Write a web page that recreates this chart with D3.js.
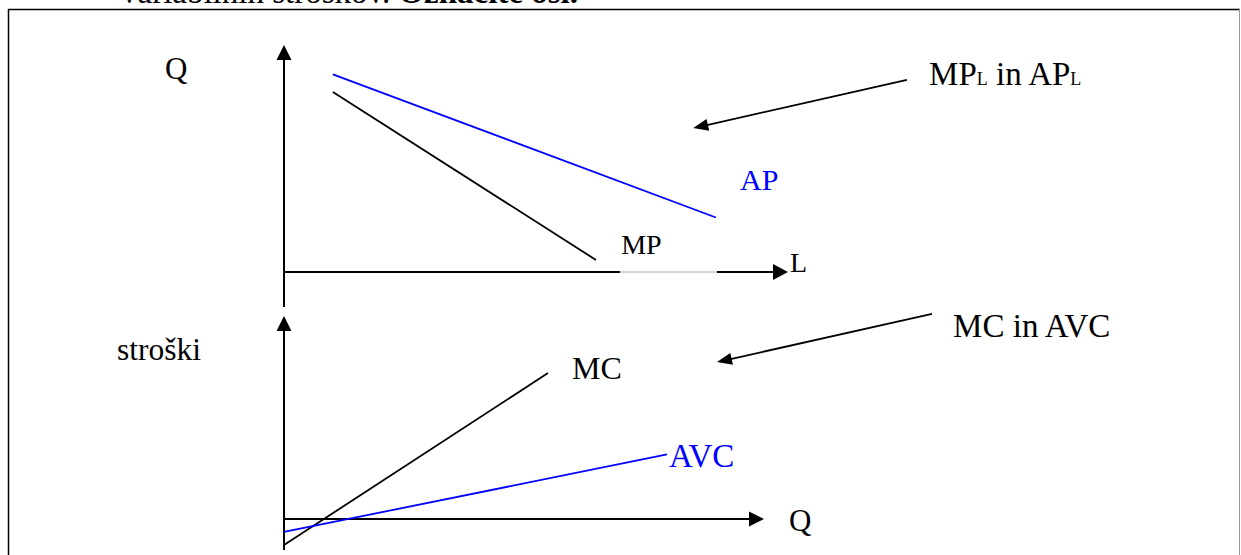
<!DOCTYPE html>
<html>
<head>
<meta charset="utf-8">
<script src="https://cdn.jsdelivr.net/npm/d3@7"></script>
<style>
body { margin: 0; background: #fff; }
text { font-family: "Liberation Serif", "DejaVu Serif", serif; }
</style>
</head>
<body>
<div id="vis"></div>
<script>
// top panel (Q against L), units 0-100 on both axes
var apLine = [[9.7, 87.1], [85.7, 24.0]];
var mpLine = [[9.7, 79.3], [61.9, 5.3]];
var lAxisGap = [66.7, 85.9];
var topArrow = [[123.6, 84.6], [81.2, 63.4]];

// bottom panel (stroški against Q)
var mcLine = [[0, -12.8], [55, 71.9]];
var avcLine = [[0, -6.4], [79.8, 31.8]];
var bottomArrow = [[135, 101], [90.2, 77.3]];

var topLabels = [
    {text: 'Q', x: -23.6, y: 85, color: '#000', size: 31},
    {text: 'AP', x: 90.5, y: 36.1, color: '#0000ff', size: 30},
    {text: 'MP', x: 66.9, y: 7.9, color: '#000', size: 28},
    {text: 'L', x: 100.4, y: 0, color: '#000', size: 28}
];
var bottomLabels = [
    {text: 'stroški', x: -34.8, y: 78.3, color: '#000', size: 31.5},
    {text: 'MC', x: 60, y: 69, color: '#000', size: 32},
    {text: 'AVC', x: 80.2, y: 25.4, color: '#0000ff', size: 33},
    {text: 'Q', x: 105.2, y: -5.9, color: '#000', size: 31},
    {text: 'MC in AVC', x: 139.4, y: 89.7, color: '#000', size: 33}
];

var width = 1241;
var height = 555;

var svg = d3.select('#vis')
    .append('svg')
    .attr('width', width)
    .attr('height', height);

svg.append('rect')
    .attr('width', width)
    .attr('height', height)
    .attr('fill', '#fff');

// question text cut off by the top of the page
var q = svg.append('text')
    .attr('x', 121)
    .attr('y', 3)
    .attr('font-size', 33);
q.append('tspan').text('variabilnih stroškov. ');
q.append('tspan').attr('font-weight', 'bold').text('Označite osi.');

// frame
svg.append('line').attr('x1', 8).attr('x2', 1240).attr('y1', 9.5).attr('y2', 9.5)
    .attr('stroke', '#000').attr('stroke-width', 1.5);
svg.append('line').attr('x1', 8.5).attr('x2', 8.5).attr('y1', 9).attr('y2', height)
    .attr('stroke', '#000').attr('stroke-width', 1.5);
svg.append('line').attr('x1', 1239.5).attr('x2', 1239.5).attr('y1', 9).attr('y2', height)
    .attr('stroke', '#999').attr('stroke-width', 1);

var xL = d3.scaleLinear().domain([0, 100]).range([284, 788]);
var yQ = d3.scaleLinear().domain([0, 100]).range([272, 45]);
var xQ = d3.scaleLinear().domain([0, 100]).range([284, 764]);
var yC = d3.scaleLinear().domain([0, 100]).range([519, 316]);

function arrowHead(g, x1, y1, x2, y2, len, half) {
    var dx = x2 - x1, dy = y2 - y1;
    var d = Math.sqrt(dx * dx + dy * dy);
    var ux = dx / d, uy = dy / d;
    var bx = x2 - ux * len, by = y2 - uy * len;
    g.append('path')
        .attr('d', 'M' + x2 + ',' + y2 +
            'L' + (bx - uy * half) + ',' + (by + ux * half) +
            'L' + (bx + uy * half) + ',' + (by - ux * half) + 'Z')
        .attr('fill', '#000');
}

function arrow(g, x1, y1, x2, y2, len, half, w) {
    var dx = x2 - x1, dy = y2 - y1;
    var d = Math.sqrt(dx * dx + dy * dy);
    g.append('line')
        .attr('x1', x1).attr('y1', y1)
        .attr('x2', x2 - dx / d * (len - 1)).attr('y2', y2 - dy / d * (len - 1))
        .attr('stroke', '#000').attr('stroke-width', w);
    arrowHead(g, x1, y1, x2, y2, len, half);
}

var line = function(xs, ys) {
    return d3.line()
        .x(function(d) { return xs(d[0]); })
        .y(function(d) { return ys(d[1]); });
};

function drawLabels(g, labels, xs, ys) {
    g.selectAll('.lbl')
        .data(labels)
        .enter()
        .append('text')
        .attr('class', 'lbl')
        .attr('x', function(d) { return xs(d.x); })
        .attr('y', function(d) { return ys(d.y); })
        .attr('font-size', function(d) { return d.size; })
        .attr('fill', function(d) { return d.color; })
        .text(function(d) { return d.text; });
}

// top panel
var topG = svg.append('g');

arrow(topG, xL(0), yQ(-15.4), xL(0), yQ(100), 15, 7.5, 2);
topG.append('line')
    .attr('x1', xL(0)).attr('x2', xL(lAxisGap[0]))
    .attr('y1', yQ(0)).attr('y2', yQ(0))
    .attr('stroke', '#000').attr('stroke-width', 2);
topG.append('line')
    .attr('x1', xL(lAxisGap[0])).attr('x2', xL(lAxisGap[1]))
    .attr('y1', yQ(0)).attr('y2', yQ(0))
    .attr('stroke', '#aaa').attr('stroke-width', 1);
arrow(topG, xL(lAxisGap[1]), yQ(0), xL(100), yQ(0), 15, 8, 2);

topG.append('path')
    .datum(apLine)
    .attr('d', line(xL, yQ))
    .attr('fill', 'none')
    .attr('stroke', '#0000ff')
    .attr('stroke-width', 1.8);

topG.append('path')
    .datum(mpLine)
    .attr('d', line(xL, yQ))
    .attr('fill', 'none')
    .attr('stroke', '#000')
    .attr('stroke-width', 1.8);

arrow(topG, xL(topArrow[0][0]), yQ(topArrow[0][1]), xL(topArrow[1][0]), yQ(topArrow[1][1]), 15, 6, 1.8);

drawLabels(topG, topLabels, xL, yQ);

var mpl = topG.append('text')
    .attr('x', xL(128))
    .attr('y', yQ(82.4))
    .attr('font-size', 33);
mpl.append('tspan').text('MP');
mpl.append('tspan').attr('font-size', 18).text('L');
mpl.append('tspan').text(' in AP');
mpl.append('tspan').attr('font-size', 18).text('L');

// bottom panel
var bottomG = svg.append('g');

arrow(bottomG, xQ(0), yC(-15.3), xQ(0), yC(100), 15, 7.5, 2);
arrow(bottomG, xQ(0), yC(0), xQ(100), yC(0), 15, 7.5, 2);

bottomG.append('path')
    .datum(mcLine)
    .attr('d', line(xQ, yC))
    .attr('fill', 'none')
    .attr('stroke', '#000')
    .attr('stroke-width', 1.8);

bottomG.append('path')
    .datum(avcLine)
    .attr('d', line(xQ, yC))
    .attr('fill', 'none')
    .attr('stroke', '#0000ff')
    .attr('stroke-width', 1.8);

arrow(bottomG, xQ(bottomArrow[0][0]), yC(bottomArrow[0][1]), xQ(bottomArrow[1][0]), yC(bottomArrow[1][1]), 15, 6, 1.8);

drawLabels(bottomG, bottomLabels, xQ, yC);
</script>
</body>
</html>
